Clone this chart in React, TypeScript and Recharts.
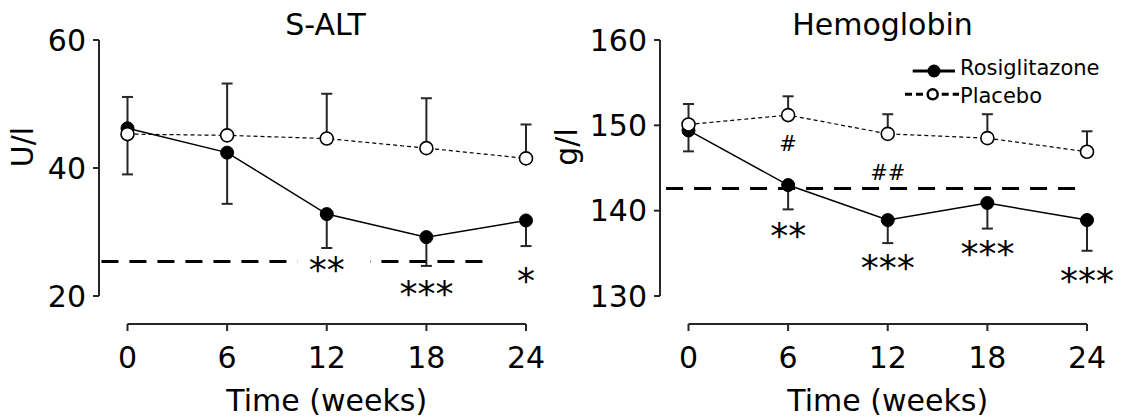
import React from 'react';
import {
  LineChart,
  Line,
  XAxis,
  YAxis,
  ErrorBar,
  ReferenceLine,
  ReferenceDot,
  Customized,
} from 'recharts';

const FONT = "'DejaVu Sans', Verdana, sans-serif";
const INK = '#000';
const AXIS = '#262626';

// ---------- data ----------
const weeks = [0, 6, 12, 18, 24];
const xTicks = [0, 6, 12, 18, 24];
const seriesNames = ['Rosiglitazone', 'Placebo'];

// S-ALT (U/l)
const altRosi = [46.2, 42.4, 32.8, 29.2, 31.8];
const altRosiSem = [7.2, 8.0, 5.3, 4.5, 4.0];
const altPlacebo = [45.3, 45.1, 44.6, 43.1, 41.5];
const altPlaceboSem = [5.8, 8.1, 7.0, 7.8, 5.3];
const altTicks = [20, 40, 60];
const altDomain: [number, number] = [20, 60];
const altLimit = 25.4;
const altLimitWeeks: [number, number] = [-1.57, 21.8];

// Hemoglobin (g/l)
const hbRosi = [149.4, 143.0, 138.9, 140.9, 138.9];
const hbRosiSem = [2.45, 2.85, 2.7, 3.0, 3.6];
const hbPlacebo = [150.1, 151.2, 149.0, 148.5, 146.9];
const hbPlaceboSem = [2.4, 2.2, 2.3, 2.8, 2.4];
const hbTicks = [130, 140, 150, 160];
const hbDomain: [number, number] = [130, 160];
const hbLimit = 142.6;
const hbLimitWeeks: [number, number] = [-1.35, 23.9];

type Note = { week: number; value: number; text: string; kind: 'star' | 'hash'; mask?: boolean };

const altNotes: Note[] = [
  { week: 12, value: 25.4, text: '**', kind: 'star', mask: true },
  { week: 18, value: 21.7, text: '***', kind: 'star' },
  { week: 24, value: 23.6, text: '*', kind: 'star' },
];

const hbNotes: Note[] = [
  { week: 6, value: 147.9, text: '#', kind: 'hash' },
  { week: 12, value: 144.5, text: '##', kind: 'hash' },
  { week: 6, value: 138.0, text: '**', kind: 'star' },
  { week: 12, value: 134.3, text: '***', kind: 'star' },
  { week: 18, value: 135.9, text: '***', kind: 'star' },
  { week: 24, value: 132.8, text: '***', kind: 'star' },
];

const buildRows = (rosi: number[], rosiSem: number[], placebo: number[], placeboSem: number[]) =>
  weeks.map((w, i) => ({
    week: w,
    rosi: rosi[i],
    placebo: placebo[i],
    rosiErr: [rosiSem[i], 0],
    placeboErr: [0, placeboSem[i]],
  }));

const altRows = buildRows(altRosi, altRosiSem, altPlacebo, altPlaceboSem);
const hbRows = buildRows(hbRosi, hbRosiSem, hbPlacebo, hbPlaceboSem);

// ---------- layout ----------
const W = 561;
const H = 417;
const PAD_LEFT = 28.5;
const PAD_BOTTOM = 28;

const NoteShape = (props: any) => {
  const { cx, cy, note } = props;
  if (cx == null || cy == null) return null;
  if (note.kind === 'hash') {
    const fs = 21;
    return (
      <text x={cx} y={cy + 0.36 * fs} textAnchor="middle" fontSize={fs} fontFamily={FONT} fill={INK}>
        {note.text}
      </text>
    );
  }
  const fs = 36;
  return (
    <g>
      {note.mask && <rect x={cx - 29.5} y={cy - 10} width={73} height={20} fill="#fff" />}
      <text x={cx} y={cy + 0.57 * fs} textAnchor="middle" fontSize={fs} fontFamily={FONT} fill={INK}>
        {note.text}
      </text>
    </g>
  );
};

const LegendBox = ({ dx }: { dx: number }) => (
  <g transform={`translate(${dx} 0)`}>
    <line x1={351.7} y1={71} x2={394} y2={71} stroke={INK} strokeWidth={3} />
    <circle cx={373} cy={71} r={6.5} fill={INK} />
    <text x={399} y={74.5} fontSize={21} fontFamily={FONT} fill={INK}>
      {seriesNames[0]}
    </text>
    <line x1={344} y1={94.3} x2={364} y2={94.3} stroke={INK} strokeWidth={3} strokeDasharray="7 4" />
    <line x1={380.7} y1={94.3} x2={398} y2={94.3} stroke={INK} strokeWidth={3} strokeDasharray="7 4" />
    <circle cx={371.7} cy={94.3} r={5} fill="#fff" stroke={INK} strokeWidth={2.5} />
    <text x={399} y={103} fontSize={21} fontFamily={FONT} fill={INK}>
      {seriesNames[1]}
    </text>
  </g>
);

type PanelProps = {
  extra: number;
  title: string;
  titleX: number;
  yLabel: string;
  yLabelX: number;
  rows: any[];
  domain: [number, number];
  ticks: number[];
  limit: number;
  limitWeeks: [number, number];
  notes: Note[];
  legend?: boolean;
};

const Panel = (p: PanelProps) => {
  const plotHeight = H - 40 - 93;
  const ex = p.extra;
  return (
    <LineChart
      width={W + ex}
      height={H}
      data={p.rows}
      margin={{ top: 40, right: 35, bottom: 13, left: 39 + ex }}
      style={{ fontFamily: FONT }}
    >
      <XAxis
        dataKey="week"
        type="number"
        domain={[0, 24]}
        ticks={xTicks}
        interval={0}
        padding={{ left: PAD_LEFT, right: 0 }}
        height={80}
        tickSize={7}
        tickMargin={16}
        tick={{ fontSize: 30, fill: INK, fontFamily: FONT }}
        axisLine={{ stroke: AXIS, strokeWidth: 2, strokeDasharray: `0 ${PAD_LEFT} 2000 0` }}
        tickLine={{ stroke: AXIS, strokeWidth: 2 }}
        label={{
          content: (lp: any) => {
            const vb = lp.viewBox || { x: 99 + ex, width: 426 };
            const cx = vb.x + PAD_LEFT + (vb.width - PAD_LEFT) / 2;
            return (
              <text x={cx} y={410.7} textAnchor="middle" fontSize={30} fontFamily={FONT} fill={INK}>
                Time (weeks)
              </text>
            );
          },
        }}
      />
      <YAxis
        type="number"
        domain={p.domain}
        ticks={p.ticks}
        interval={0}
        padding={{ top: 0, bottom: PAD_BOTTOM }}
        width={60}
        tickSize={6}
        tickMargin={7}
        tick={{ fontSize: 30, fill: INK, fontFamily: FONT }}
        axisLine={{ stroke: AXIS, strokeWidth: 2, strokeDasharray: `${plotHeight - PAD_BOTTOM} 2000` }}
        tickLine={{ stroke: AXIS, strokeWidth: 2 }}
        label={{
          content: () => (
            <text
              x={p.yLabelX + ex}
              y={147}
              transform={`rotate(-90 ${p.yLabelX + ex} 147)`}
              textAnchor="middle"
              fontSize={30}
              fontFamily={FONT}
              fill={INK}
            >
              {p.yLabel}
            </text>
          ),
        }}
      />
      <ReferenceLine
        segment={[
          { x: p.limitWeeks[0], y: p.limit },
          { x: p.limitWeeks[1], y: p.limit },
        ]}
        stroke={INK}
        strokeWidth={3}
        strokeDasharray="17 11"
        ifOverflow="visible"
      />
      <Line
        dataKey="rosi"
        name={seriesNames[0]}
        stroke={INK}
        strokeWidth={1.5}
        isAnimationActive={false}
        dot={{ r: 6.5, fill: INK, stroke: INK, strokeWidth: 1 }}
        activeDot={false}
      >
        <ErrorBar dataKey="rosiErr" direction="y" width={5.5} stroke={AXIS} strokeWidth={2} />
      </Line>
      <Line
        dataKey="placebo"
        name={seriesNames[1]}
        stroke={INK}
        strokeWidth={1.2}
        strokeDasharray="4 3"
        isAnimationActive={false}
        dot={{ r: 6.5, fill: '#fff', stroke: INK, strokeWidth: 1.6, strokeDasharray: 'none' }}
        activeDot={false}
      >
        <ErrorBar dataKey="placeboErr" direction="y" width={5.5} stroke={AXIS} strokeWidth={2} />
      </Line>
      {p.notes.map((n, i) => (
        <ReferenceDot
          key={i}
          x={n.week}
          y={n.value}
          r={0}
          ifOverflow="visible"
          shape={(sp: any) => <NoteShape {...sp} note={n} />}
        />
      ))}
      <Customized
        component={() => (
          <text x={p.titleX + ex} y={35} textAnchor="middle" fontSize={30} fontFamily={FONT} fill={INK}>
            {p.title}
          </text>
        )}
      />
      {p.legend && <Customized component={() => <LegendBox dx={ex} />} />}
    </LineChart>
  );
};

export default function App() {
  return (
    <div
      style={{
        position: 'absolute',
        left: 0,
        top: 0,
        width: 1122,
        height: 417,
        background: '#fff',
        fontFamily: FONT,
        overflow: 'hidden',
      }}
    >
      <div style={{ position: 'absolute', left: 0, top: 0 }}>
        <Panel
          extra={0}
          title="S-ALT"
          titleX={325.5}
          yLabel="U/l"
          yLabelX={32.5}
          rows={altRows}
          domain={altDomain}
          ticks={altTicks}
          limit={altLimit}
          limitWeeks={altLimitWeeks}
          notes={altNotes}
        />
      </div>
      <div style={{ position: 'absolute', left: 536, top: 0 }}>
        <Panel
          extra={25}
          title="Hemoglobin"
          titleX={321.5}
          yLabel="g/l"
          yLabelX={16}
          rows={hbRows}
          domain={hbDomain}
          ticks={hbTicks}
          limit={hbLimit}
          limitWeeks={hbLimitWeeks}
          notes={hbNotes}
          legend
        />
      </div>
    </div>
  );
}
